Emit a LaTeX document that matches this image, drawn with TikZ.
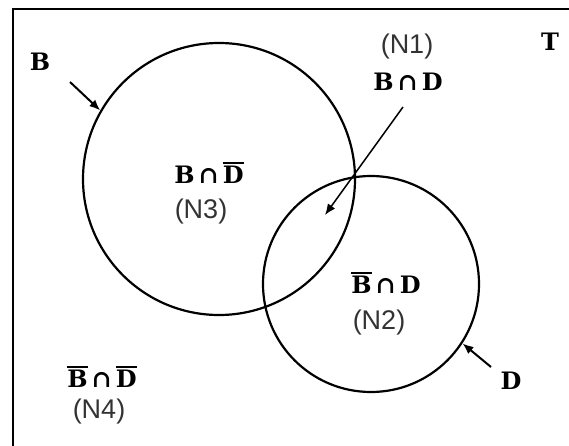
\documentclass[tikz,border=0pt]{standalone}
\usepackage{fontspec}
\usepackage{tikz}
\usetikzlibrary{arrows.meta, positioning}
\newfontfamily\setfont{DejaVu Serif}
\newfontfamily\tagfont{Liberation Sans}
\newcommand\cmpl[1]{\vbox{\hrule height 1.8pt\kern 1.8pt\hbox{#1}}}

\begin{document}
\begin{tikzpicture}[x=1pt, y=-1pt,
        setcircle/.style={circle, draw=black, line width=2.2pt, inner sep=0pt},
        setname/.style={inner sep=1pt, font=\setfont\bfseries\fontsize{24}{26}\selectfont},
        tagname/.style={inner sep=1pt, font=\tagfont\fontsize{27}{29}\selectfont, text=black!80},
        pointer/.style={-{Latex[length=11pt, width=9pt]}, line width=2pt}
    ]
        \useasboundingbox (0,0) rectangle (569,446);
        \draw[line width=2pt] (569,9) -- (13,9) -- (13,446);

        \node[setcircle, minimum size=272pt] (bcirc) at (219,179) {};
        \node[setcircle, minimum size=216pt] (dcirc) at (371,284) {};

        \node[setname] (blabel) at (40,62) {B};
        \node[setname] (tlabel) at (550,42) {T};
        \node[setname] (dlabel) at (511,381) {D};

        \node[tagname] (none) at (407,47) {(N1)};
        \node[setname] (bd) at (408,82) {B\,∩\,D};
        \node[setname] (bnotd) at (209,173) {B\,∩\,\cmpl{D}};
        \node[tagname] (nthree) at (201,212) {(N3)};
        \node[setname] (notbd) at (386,283) {\cmpl{B}\,∩\,D};
        \node[tagname] (ntwo) at (379,323) {(N2)};
        \node[setname] (notbnotd) at (102,377) {\cmpl{B}\,∩\,\cmpl{D}};
        \node[tagname] (nfour) at (99,412) {(N4)};

        \coordinate (btail) at (70,82);
        \coordinate (dtail) at (491,367);
        \coordinate (ntail) at (403,107);
        \coordinate (ntip) at (325,215);

        \draw[pointer] (btail) -- (bcirc.150);
        \draw[pointer] (dtail) -- (dcirc.-33);
        \draw[pointer, line width=1.5pt] (ntail) -- (ntip);
    \end{tikzpicture}
\end{document}
